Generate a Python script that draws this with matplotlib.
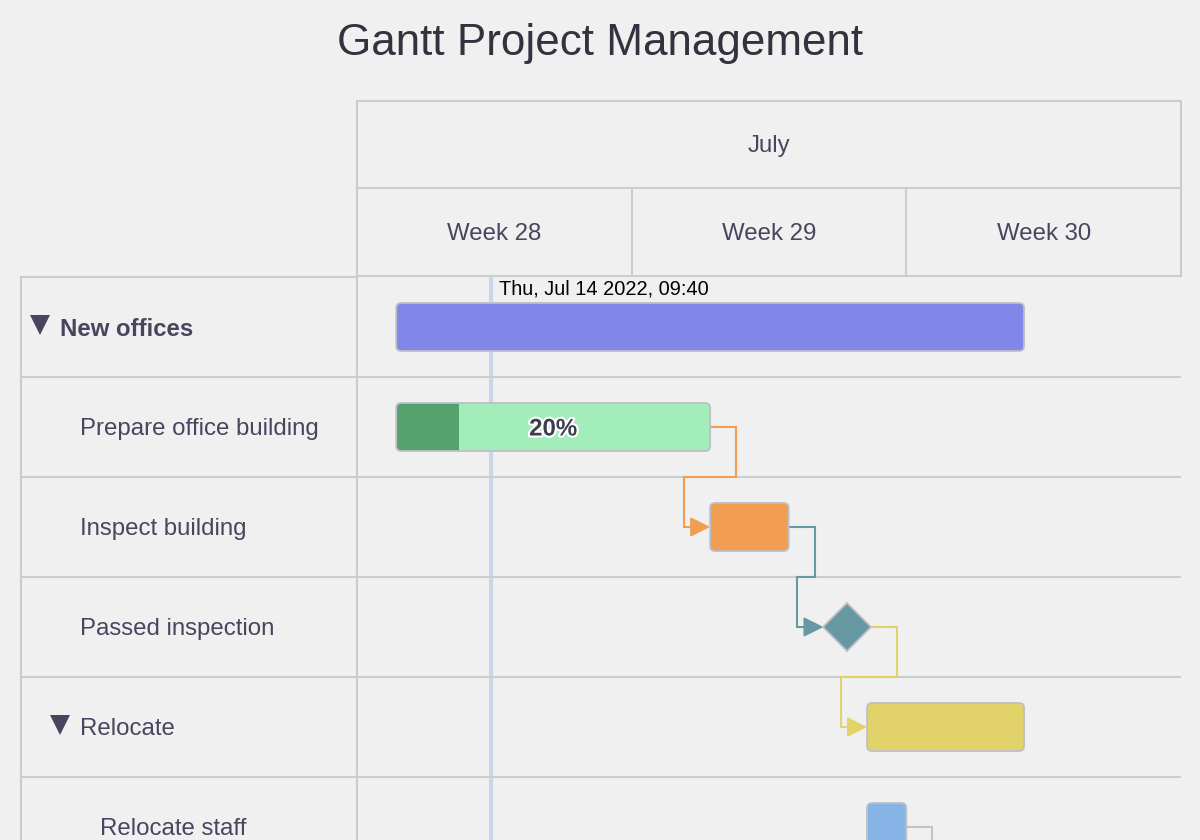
import matplotlib
matplotlib.use('Agg')
import matplotlib.pyplot as plt
import matplotlib.dates as mdates
import matplotlib.patheffects as pe
from matplotlib.patches import FancyBboxPatch
import pandas as pd

plt.rcParams['font.family'] = ['Liberation Sans', 'DejaVu Sans']

# task data
tasks = ['New offices', 'Prepare office building', 'Inspect building',
         'Passed inspection', 'Relocate', 'Relocate staff', 'Relocate test facility']
indent = [0, 1, 1, 1, 1, 2, 2]
collapsible = [True, False, False, False, True, False, False]
starts = ['2022-07-12 00:00', '2022-07-12 00:00', '2022-07-20 00:00', '2022-07-23 12:00',
          '2022-07-24 00:00', '2022-07-24 00:00', '2022-07-25 00:00']
ends = ['2022-07-28 00:00', '2022-07-20 00:00', '2022-07-22 00:00', '2022-07-23 12:00',
        '2022-07-28 00:00', '2022-07-25 00:00', '2022-07-27 00:00']
milestone = [False, False, False, True, False, False, False]
completed = [None, 0.2, None, None, None, None, None]
depends = [None, None, 1, 2, 3, None, 5]
colors = ['#8087e8', '#a3edba', '#f19e53', '#6699a1', '#e1d369', '#87b4e7', '#da6d85']
done_color = '#56a26d'
link_colors = [None, None, '#f19e53', '#6699a1', '#e1d369', None, '#c2c2ca']

month_label = 'July'
week_labels = ['Week 28', 'Week 29', 'Week 30']
week_starts = ['2022-07-11', '2022-07-18', '2022-07-25', '2022-08-01']
today = '2022-07-14 09:40'

bg = '#f0f0f0'
grid = '#cccccc'
text_c = '#46465e'
border = '#bebec8'
fs = 17.3

W, H = 1200, 840
fig = plt.figure(figsize=(12, 8.4), dpi=100, facecolor=bg)


def box(l, t, r, b):
    return [l / W, 1 - b / H, (r - l) / W, (b - t) / H]


ax = fig.add_axes(box(357, 277, 1180, 840))
hx = fig.add_axes(box(357, 101, 1181, 276))
lx = fig.add_axes(box(21, 277, 357, 840), sharey=ax)
for a in (ax, hx, lx):
    a.set_axis_off()

wk = mdates.date2num(pd.to_datetime(week_starts))
x0, x1 = wk[0], wk[-1]
px_day = (1181 - 357) / (x1 - x0)
ax.set_xlim(x0, x1 - 1 / px_day)
hx.set_xlim(x0, x1)
nrows = len(tasks)
ax.set_ylim(-0.5 + (840 - 277) / 100, -0.5)
aspect = px_day / 100

s = mdates.date2num(pd.to_datetime(starts, format='mixed'))
e = mdates.date2num(pd.to_datetime(ends, format='mixed'))

# header
hx.set_ylim(0, 2)
lk = dict(color=grid, lw=1.5, clip_on=False)
hx.plot([x0, x1, x1, x0, x0], [0, 0, 2, 2, 0], **lk)
hx.plot([x0, x1], [1, 1], **lk)
hx.vlines(wk[1:-1], 0, 1, **lk)
hx.text((x0 + x1) / 2, 1.48, month_label, ha='center', va='center', fontsize=fs, color=text_c)
for i, lab in enumerate(week_labels):
    hx.text((wk[i] + wk[i + 1]) / 2, 0.48, lab, ha='center', va='center', fontsize=fs, color=text_c)

# row grid
bounds = [k + 0.5 for k in range(nrows)]
for b in bounds:
    ax.axhline(b, **lk)
    lx.axhline(b, **lk)
lx.axhline(-0.5, **lk)
ax.axvline(x0, **lk)
lx.set_xlim(0, 336)
lx.axvline(0, **lk)

# left labels
for i, name in enumerate(tasks):
    lx_pos = 39 + 20 * indent[i]
    lx.text(lx_pos, i + 0.02, name, ha='left', va='center', fontsize=fs, color=text_c,
            fontweight='bold' if indent[i] == 0 else 'normal')
    if collapsible[i]:
        lx.plot(lx_pos - 20, i - 0.02, marker='v', markersize=14, color=text_c, mew=0)

# current time line
t = mdates.date2num(pd.Timestamp(today))
ax.axvline(t, color='#ccd6eb', lw=3, zorder=1)
ax.annotate(pd.Timestamp(today).strftime('%a, %b %d %Y, %H:%M'), xy=(t, -0.5),
            xytext=(6, -1.5), textcoords='offset points', va='top', ha='left',
            fontsize=14.4, color='black', zorder=5)

# bars
bh = 0.48
half_ms = 24 / px_day
for i in range(nrows):
    if milestone[i]:
        ax.plot(s[i], i, marker='D', markersize=24.5, mfc=colors[i], mec=border, mew=1.3, zorder=3)
        continue
    style = 'round,pad=0,rounding_size=%.3f' % (5 / px_day)
    body = FancyBboxPatch((s[i], i - bh / 2), e[i] - s[i], bh, boxstyle=style,
                          mutation_aspect=aspect, fc=colors[i], ec='none', zorder=3)
    ax.add_patch(body)
    if completed[i]:
        r = ax.barh(i, (e[i] - s[i]) * completed[i], left=s[i], height=bh,
                    color=done_color, zorder=3.2)
        for p in r:
            p.set_clip_path(body)
        ax.text((s[i] + e[i]) / 2, i + 0.02, '%d%%' % round(completed[i] * 100),
                ha='center', va='center', fontsize=fs, fontweight='bold', color='#3d3d52',
                zorder=4, path_effects=[pe.withStroke(linewidth=3, foreground='white')])
    ax.add_patch(FancyBboxPatch((s[i], i - bh / 2), e[i] - s[i], bh, boxstyle=style,
                                mutation_aspect=aspect, fc='none', ec=border, lw=1.3, zorder=3.4))

# dependency connectors
off = 26 / px_day
for i, d in enumerate(depends):
    if d is None:
        continue
    xs = s[d] + half_ms if milestone[d] else e[d]
    xt = s[i] - half_ms if milestone[i] else s[i]
    c = link_colors[i]
    ax.plot([xs, xs + off, xs + off, xt - off, xt - off], [d, d, d + 0.5, d + 0.5, i],
            color=c, lw=1.5, zorder=2, solid_joinstyle='miter')
    ax.annotate('', xy=(xt, i), xytext=(xt - off, i),
                arrowprops=dict(arrowstyle='-|>,head_length=0.6,head_width=0.3',
                                color=c, lw=1.5, shrinkA=0, shrinkB=0, mutation_scale=20),
                zorder=2)

fig.text(0.5, 1 - 44 / H, 'Gantt Project Management', ha='center', va='center',
         fontsize=31.7, color='#333340')

fig.savefig('out.png', dpi=100, facecolor=bg)
